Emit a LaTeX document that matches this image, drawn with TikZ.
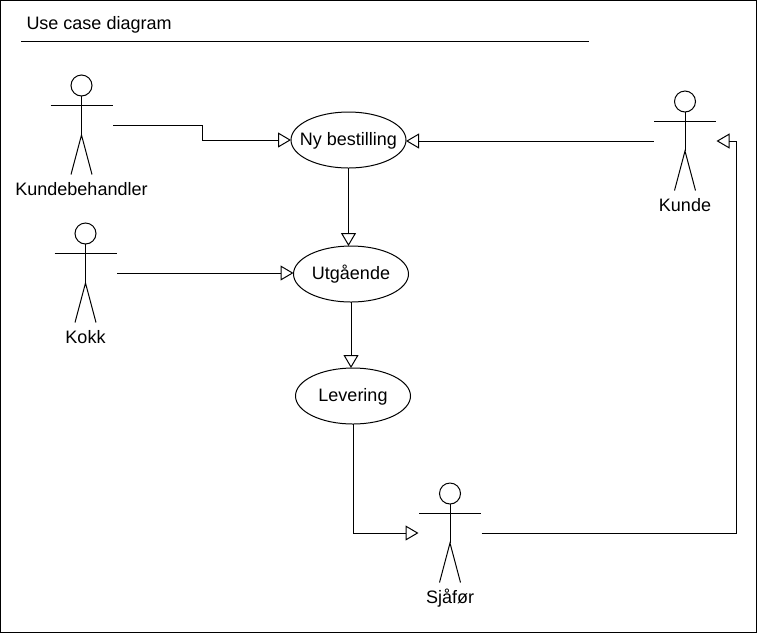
\documentclass[tikz,border=0pt]{standalone}
\usepackage{fontspec}
\setmainfont{Liberation Sans}
\usetikzlibrary{arrows.meta,positioning,shapes.geometric}
\tikzset{
  usecase/.style={draw,ellipse,minimum width=115pt,minimum height=56pt,inner sep=-12pt,outer sep=0pt,text height=13pt,text depth=3pt},
  actorbox/.style={minimum width=62pt,minimum height=99pt,inner sep=0pt,outer sep=0.5pt},
  actorname/.style={inner sep=0pt,text height=13pt,text depth=4pt},
  gen/.style={-{Triangle[open,length=13pt,width=15pt]}},
}
\begin{document}
\begin{tikzpicture}[x=1pt,y=-1pt,line width=1pt,font=\fontsize{18}{20}\selectfont]
\useasboundingbox (0,0) rectangle (757,633);
\draw (0.5,0.5) rectangle (756.5,632.5);
\node[anchor=west,inner sep=0pt] (title) at (26,25) {Use case diagram};
\coordinate (rulea) at (21,41.5);
\coordinate (ruleb) at (589,41.5);
\draw (rulea)--(ruleb);

%%% actors
\foreach \n/\x/\y/\t in {kb/81.5/125/Kundebehandler,kokk/85.5/273/Kokk,kunde/685/141/Kunde,sjafor/450/533/Sjåfør}{
  \node[actorbox] (\n) at (\x,\y) {};
  \draw (\x,\y-39.5) circle (10.5pt);
  \draw (\x,\y-29)--(\x,\y+10);
  \draw (\x-31,\y-20)--(\x+31,\y-20);
  \draw (\x-10.5,\y+49.5)--(\x,\y+10)--(\x+10.5,\y+49.5);
  \node[actorname] (\n-name) at (\x,\y+65.5) {\t};
}

%%% use cases
\node[usecase] (ny) at (348.5,140) {Ny bestilling};
\node[usecase] (ut) at (351,274) {Utgående};
\node[usecase] (lev) at (353,396) {Levering};

\draw[gen] (kb.east)--++(89,0)|-(ny.west);
\draw[gen] (kokk.east)--(kokk.east-|ut.west);
\draw[gen] (kunde.west)--(kunde.west-|ny.east);
\draw[gen] (ny.south)--(ut.north-|ny.south);
\draw[gen] (ut.south)--(lev.north-|ut.south);
\draw[gen] (lev.south)|-(sjafor.west);
\coordinate (back) at (736.5,141);
\draw (sjafor.east)-|(back);
\draw[gen] (back)--(kunde.east);
\end{tikzpicture}
\end{document}
